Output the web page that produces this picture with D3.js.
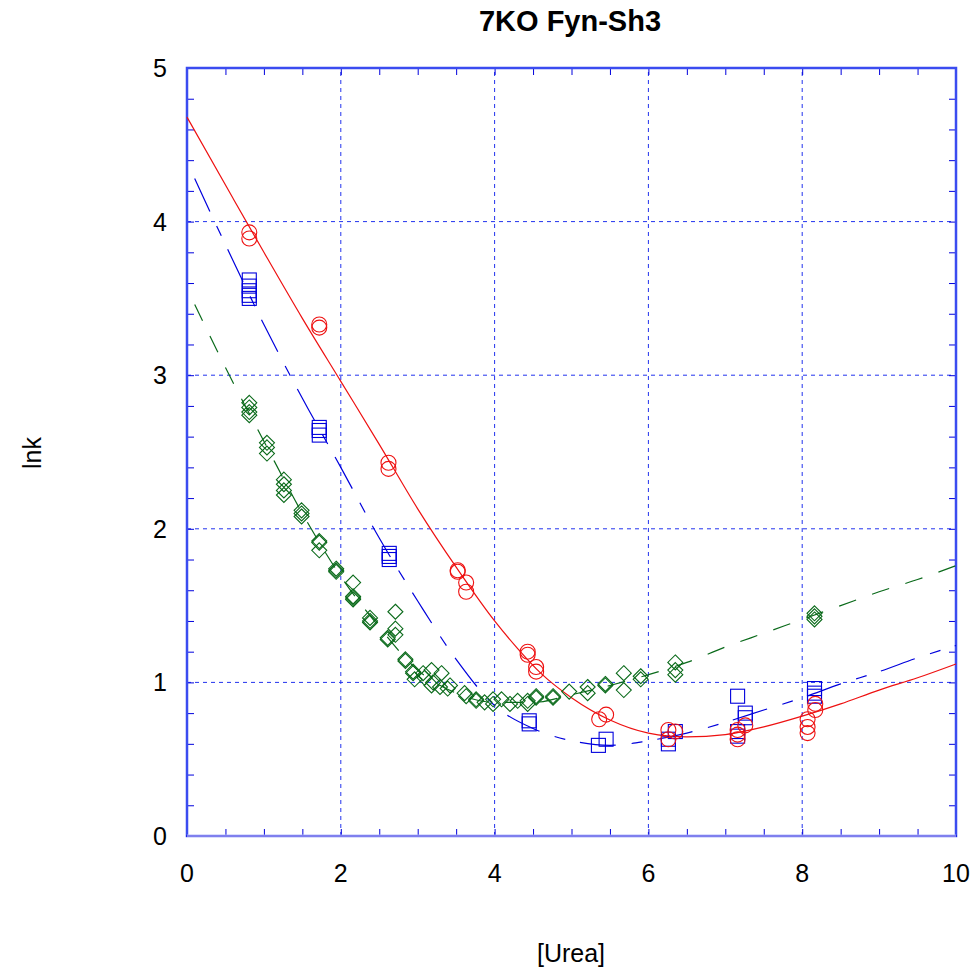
<!DOCTYPE html>
<html>
<head>
<meta charset="utf-8">
<script src="https://cdn.jsdelivr.net/npm/d3@7"></script>
<style>
  body { margin: 0; background: #fff; }
  text { font-family: Arial, "Liberation Sans", sans-serif; }
</style>
</head>
<body>
<div id="container"></div>
<script>
/* data */
const xTicks = [0, 2, 4, 6, 8, 10];
const yTicks = [0, 1, 2, 3, 4, 5];

// fitted curves, [urea, lnk]
const redFit = [[0,4.68],[0.6,4.15],[1,3.80],[1.5,3.37],[2,2.96],[2.5,2.55],[3,2.13],[3.5,1.75],[4,1.40],[4.3,1.22],[4.6,1.06],[5,0.90],[5.5,0.755],[6,0.67],[6.5,0.645],[7,0.66],[7.5,0.71],[8,0.78],[8.5,0.86],[9,0.95],[9.5,1.03],[10,1.12]];
const blueFit = [[0.1,4.28],[0.5,3.85],[1,3.33],[1.5,2.85],[2,2.40],[2.5,1.94],[3,1.53],[3.5,1.15],[4,0.85],[4.5,0.70],[5,0.62],[5.5,0.59],[6,0.62],[6.5,0.67],[7,0.74],[7.5,0.82],[8,0.90],[8.5,0.99],[9,1.07],[9.5,1.16],[10,1.24]];
const greenFit = [[0.1,3.46],[0.5,3.05],[1,2.57],[1.5,2.10],[2,1.69],[2.5,1.36],[3,1.08],[3.5,0.93],[4,0.87],[4.5,0.87],[5,0.92],[5.5,0.98],[6,1.05],[6.5,1.13],[7,1.23],[7.5,1.32],[8,1.41],[8.5,1.50],[9,1.59],[9.5,1.67],[10,1.76]];

// measured points, [urea, lnk]
const redPts = [[0.81,3.93],[0.81,3.89],[1.72,3.33],[1.72,3.31],[2.62,2.43],[2.62,2.39],[3.52,1.73],[3.52,1.72],[3.63,1.65],[3.63,1.59],[4.43,1.20],[4.43,1.18],[4.54,1.10],[4.54,1.07],[5.36,0.76],[5.45,0.79],[6.26,0.69],[6.26,0.63],[6.35,0.68],[7.16,0.69],[7.16,0.66],[7.16,0.63],[7.26,0.72],[8.07,0.76],[8.07,0.71],[8.07,0.67],[8.17,0.86],[8.17,0.82]];
const bluePts = [[0.81,3.62],[0.81,3.58],[0.81,3.55],[0.81,3.52],[0.81,3.50],[1.72,2.66],[1.72,2.64],[1.72,2.61],[2.63,1.84],[2.63,1.82],[2.63,1.80],[4.45,0.75],[4.45,0.73],[5.35,0.59],[5.45,0.63],[6.26,0.63],[6.26,0.60],[6.35,0.68],[7.16,0.91],[7.16,0.68],[7.16,0.65],[7.26,0.80],[7.26,0.77],[8.16,0.96],[8.16,0.93],[8.16,0.91]];
const greenPts = [[0.81,2.82],[0.81,2.79],[0.81,2.76],[0.81,2.74],[1.04,2.56],[1.04,2.53],[1.04,2.49],[1.26,2.32],[1.26,2.29],[1.26,2.25],[1.26,2.22],[1.49,2.12],[1.49,2.10],[1.49,2.08],[1.72,1.92],[1.72,1.91],[1.72,1.86],[1.94,1.74],[1.94,1.73],[1.94,1.72],[2.16,1.65],[2.16,1.56],[2.16,1.55],[2.16,1.54],[2.38,1.42],[2.38,1.40],[2.38,1.39],[2.61,1.29],[2.61,1.28],[2.71,1.46],[2.71,1.35],[2.71,1.31],[2.84,1.15],[2.84,1.14],[2.94,1.07],[2.94,1.06],[2.96,1.02],[3.07,1.06],[3.09,1.03],[3.18,1.08],[3.20,1.00],[3.18,0.98],[3.31,1.06],[3.29,0.97],[3.39,0.96],[3.42,0.98],[3.61,0.93],[3.63,0.91],[3.76,0.89],[3.76,0.88],[3.87,0.87],[3.98,0.89],[3.98,0.86],[4.09,0.89],[4.20,0.86],[4.30,0.88],[4.43,0.88],[4.43,0.86],[4.54,0.91],[4.54,0.90],[4.76,0.91],[4.76,0.90],[4.97,0.94],[5.21,0.97],[5.21,0.93],[5.44,0.99],[5.44,0.98],[5.68,1.06],[5.68,0.95],[5.90,1.04],[5.90,1.02],[6.35,1.13],[6.35,1.08],[6.35,1.05],[8.16,1.45],[8.16,1.43],[8.16,1.41]];

/* layout */
const width = 972, height = 968,
    margin = {top: 68, left: 187, bottom: 132, right: 16};

const red = "#ee1111", blue = "#0000dd", green = "#0a6a1a", gridBlue = "#2233ee";

const xScale = d3.scaleLinear()
    .domain([0, 10])
    .range([margin.left, width - margin.right]);

const yScale = d3.scaleLinear()
    .domain([0, 5])
    .range([height - margin.bottom, margin.top]);

const svg = d3.select("#container")
    .append("svg")
    .attr("width", width)
    .attr("height", height);

const x0 = xScale(0), x1 = xScale(10), y0 = yScale(0), y1 = yScale(5);

// grid
svg.append("g")
    .selectAll("line")
    .data(xTicks.slice(1, -1))
    .join("line")
    .attr("x1", d => xScale(d)).attr("x2", d => xScale(d))
    .attr("y1", y0).attr("y2", y1)
    .attr("stroke", gridBlue)
    .attr("stroke-dasharray", "4,4");

svg.append("g")
    .selectAll("line")
    .data(yTicks.slice(1, -1))
    .join("line")
    .attr("y1", d => yScale(d)).attr("y2", d => yScale(d))
    .attr("x1", x0).attr("x2", x1)
    .attr("stroke", gridBlue)
    .attr("stroke-dasharray", "4,4");

// inward ticks on all four sides
const xAxisBottom = d3.axisBottom(xScale).tickValues(d3.range(0, 10.01, 0.5)).tickSize(-7).tickFormat("");
const xAxisTop = d3.axisTop(xScale).tickValues(d3.range(0, 10.01, 0.5)).tickSize(-7).tickFormat("");
const yAxisLeft = d3.axisLeft(yScale).tickValues(d3.range(0, 5.01, 0.2)).tickSize(-7).tickFormat("");
const yAxisRight = d3.axisRight(yScale).tickValues(d3.range(0, 5.01, 0.2)).tickSize(-7).tickFormat("");

[[xAxisBottom, `translate(0,${y0})`], [xAxisTop, `translate(0,${y1})`],
 [yAxisLeft, `translate(${x0},0)`], [yAxisRight, `translate(${x1},0)`]].forEach(([ax, tr]) => {
    const g = svg.append("g").attr("transform", tr).call(ax);
    g.select(".domain").remove();
    g.selectAll("line").attr("stroke", blue);
});

// frame
svg.append("rect")
    .attr("x", x0).attr("y", y1)
    .attr("width", x1 - x0).attr("height", y0 - y1)
    .attr("fill", "none")
    .attr("stroke", "#3b4cf0")
    .attr("stroke-width", 2.5);
svg.append("line")
    .attr("x1", x0).attr("x2", x1).attr("y1", y0).attr("y2", y0)
    .attr("stroke", "white").attr("stroke-width", 2.5);
svg.append("line")
    .attr("x1", x0 - 1).attr("x2", x1 + 1).attr("y1", y0).attr("y2", y0)
    .attr("stroke", blue).attr("stroke-width", 1.2);

// tick labels
svg.append("g")
    .selectAll("text")
    .data(xTicks)
    .join("text")
    .attr("x", d => xScale(d))
    .attr("y", y0 + 46)
    .attr("text-anchor", "middle")
    .attr("font-size", 25)
    .text(d => d);

svg.append("g")
    .selectAll("text")
    .data(yTicks)
    .join("text")
    .attr("x", x0 - 27)
    .attr("y", d => yScale(d) + 9)
    .attr("text-anchor", "middle")
    .attr("font-size", 25)
    .text(d => d);

// titles
svg.append("text")
    .attr("x", 570).attr("y", 31)
    .attr("text-anchor", "middle")
    .attr("font-size", 29)
    .attr("font-weight", "bold")
    .text("7KO Fyn-Sh3");

svg.append("text")
    .attr("x", 571).attr("y", 962)
    .attr("text-anchor", "middle")
    .attr("font-size", 25)
    .text("[Urea]");

svg.append("text")
    .attr("transform", "translate(41,453) rotate(-90)")
    .attr("text-anchor", "middle")
    .attr("font-size", 25)
    .text("lnk");

// fitted curves
const line = d3.line()
    .x(d => xScale(d[0]))
    .y(d => yScale(d[1]))
    .curve(d3.curveMonotoneX);

const plot = svg.append("g");

plot.append("path").datum(greenFit)
    .attr("d", line).attr("fill", "none")
    .attr("stroke", green).attr("stroke-width", 1.2)
    .attr("stroke-dasharray", "18,17");

plot.append("path").datum(blueFit)
    .attr("d", line).attr("fill", "none")
    .attr("stroke", blue).attr("stroke-width", 1.2)
    .attr("stroke-dasharray", "36,16,11,15");

plot.append("path").datum(redFit)
    .attr("d", line).attr("fill", "none")
    .attr("stroke", red).attr("stroke-width", 1.2);

// symbols
plot.selectAll(".diamond")
    .data(greenPts)
    .join("path")
    .attr("class", "diamond")
    .attr("d", d => {
        const cx = xScale(d[0]), cy = yScale(d[1]), r = 7.5;
        return `M${cx},${cy - r}L${cx + r},${cy}L${cx},${cy + r}L${cx - r},${cy}Z`;
    })
    .attr("fill", "none")
    .attr("stroke", green)
    .attr("stroke-width", 1.1);

plot.selectAll(".square")
    .data(bluePts)
    .join("rect")
    .attr("class", "square")
    .attr("x", d => xScale(d[0]) - 7)
    .attr("y", d => yScale(d[1]) - 7)
    .attr("width", 14).attr("height", 14)
    .attr("fill", "none")
    .attr("stroke", blue)
    .attr("stroke-width", 1.1);

plot.selectAll(".dot")
    .data(redPts)
    .join("circle")
    .attr("class", "dot")
    .attr("cx", d => xScale(d[0]))
    .attr("cy", d => yScale(d[1]))
    .attr("r", 7.5)
    .attr("fill", "none")
    .attr("stroke", red)
    .attr("stroke-width", 1.1);
</script>
</body>
</html>
